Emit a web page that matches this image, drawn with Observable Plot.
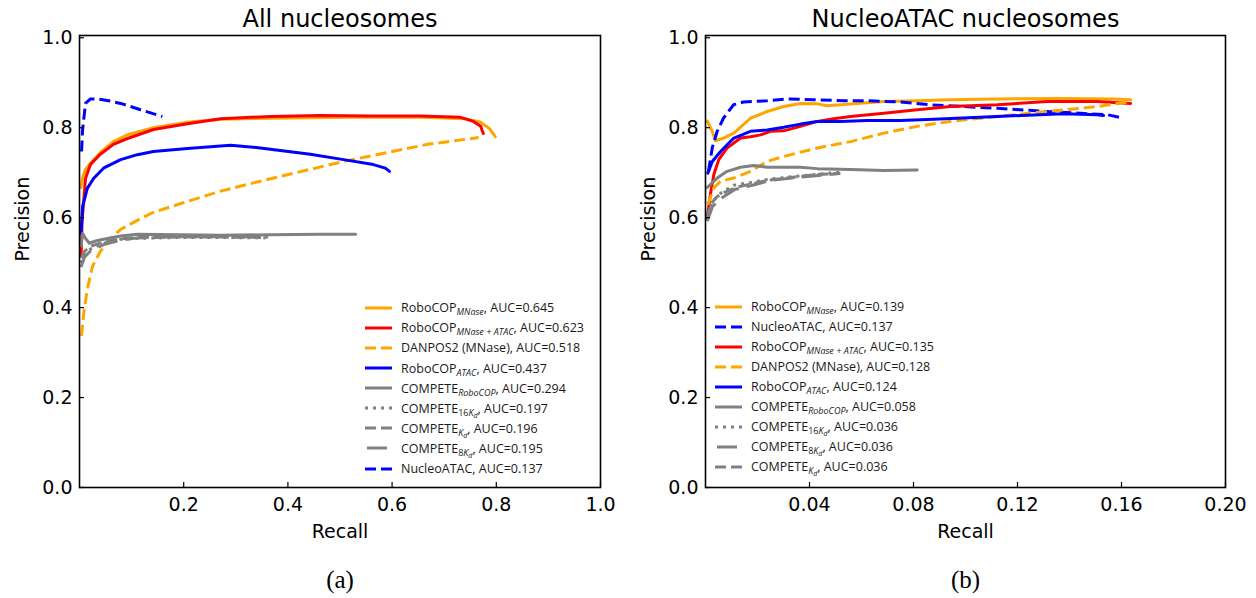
<!DOCTYPE html>
<html><head><meta charset="utf-8">
<script src="https://cdn.jsdelivr.net/npm/d3@7"></script>
<script src="https://cdn.jsdelivr.net/npm/@observablehq/plot@0.6"></script>
<style>
html,body{margin:0;padding:0;background:#fff;}
#root{position:relative;width:1256px;height:598px;overflow:hidden;background:#fff;}
.panel{position:absolute;top:0;}
.legend{position:absolute;left:0;top:0;font-family:"Open Sans",sans-serif;font-size:12.5px;color:#1a1a1a;}
.row{position:absolute;white-space:nowrap;display:flex;align-items:center;height:20px;}
.row svg{margin-right:9px;flex:none;}
.sub{font-size:9px;font-style:italic;position:relative;top:3px;}
.sub .up{font-style:normal;}
.sub .ss{font-size:7px;position:relative;top:2px;}
</style></head><body><div id="root"></div>
<script>
// ---------------- data: panel (a) All nucleosomes ----------------
const a_mnase_r = [0.003,0.006,0.0115,0.021,0.040,0.065,0.094,0.142,0.207,0.271,0.367,0.520,0.655,0.741,0.770,0.787,0.798];
const a_mnase_p = [0.667,0.690,0.707,0.721,0.745,0.769,0.785,0.800,0.812,0.819,0.821,0.823,0.823,0.820,0.812,0.798,0.780];
const a_mnaseatac_r = [0.003,0.005,0.0115,0.021,0.040,0.065,0.092,0.142,0.207,0.271,0.367,0.463,0.559,0.655,0.731,0.756,0.770,0.775];
const a_mnaseatac_p = [0.514,0.592,0.687,0.718,0.741,0.763,0.776,0.796,0.809,0.820,0.825,0.827,0.826,0.826,0.823,0.814,0.803,0.787];
const a_danpos_r = [0.004,0.008,0.015,0.025,0.040,0.060,0.079,0.111,0.142,0.207,0.271,0.361,0.507,0.668,0.766];
const a_danpos_p = [0.337,0.386,0.441,0.492,0.525,0.554,0.574,0.594,0.612,0.636,0.659,0.685,0.725,0.763,0.778];
const a_atac_r = [0.003,0.006,0.015,0.027,0.046,0.079,0.111,0.142,0.207,0.290,0.347,0.443,0.507,0.564,0.587,0.595];
const a_atac_p = [0.565,0.625,0.665,0.687,0.710,0.729,0.740,0.747,0.754,0.761,0.755,0.741,0.729,0.718,0.710,0.703];
const a_compRobo_r = [0.003,0.006,0.0115,0.019,0.031,0.046,0.079,0.111,0.194,0.271,0.367,0.463,0.530];
const a_compRobo_p = [0.537,0.565,0.554,0.543,0.548,0.552,0.559,0.563,0.562,0.561,0.562,0.563,0.563];
const a_comp16_r = [0.003,0.0096,0.021,0.046,0.079,0.111,0.194,0.271,0.357];
const a_comp16_p = [0.499,0.519,0.530,0.543,0.552,0.554,0.556,0.556,0.555];
const a_compKd_r = [0.003,0.0096,0.021,0.046,0.079,0.111,0.194,0.271,0.352];
const a_compKd_p = [0.510,0.525,0.536,0.546,0.553,0.556,0.557,0.557,0.556];
const a_comp8_r = [0.003,0.0096,0.021,0.046,0.079,0.111,0.194,0.271,0.362];
const a_comp8_p = [0.490,0.512,0.526,0.540,0.550,0.555,0.558,0.558,0.557];
const a_nucleo_r = [0.004,0.006,0.0115,0.021,0.035,0.056,0.079,0.117,0.159];
const a_nucleo_p = [0.747,0.796,0.854,0.864,0.864,0.860,0.854,0.840,0.825];

// ---------------- data: panel (b) NucleoATAC nucleosomes ----------------
const b_mnase_r = [0.00065,0.0026,0.0038,0.0070,0.0109,0.0173,0.0237,0.0301,0.0365,0.0430,0.0468,0.0519,0.0583,0.0686,0.0814,0.0942,0.1122,0.1377,0.1569,0.1635];
const b_mnase_p = [0.815,0.792,0.771,0.777,0.788,0.821,0.836,0.847,0.854,0.853,0.849,0.851,0.854,0.858,0.860,0.862,0.864,0.865,0.864,0.862];
const b_nucleo_r = [0.00115,0.00258,0.0045,0.0069,0.0108,0.0146,0.0237,0.0314,0.0430,0.0531,0.0622,0.0750,0.0865,0.0992,0.1122,0.1314,0.1442,0.1545,0.1608];
const b_nucleo_p = [0.703,0.755,0.792,0.821,0.851,0.857,0.860,0.864,0.862,0.860,0.860,0.857,0.851,0.847,0.843,0.836,0.832,0.829,0.821];
const b_mnaseatac_r = [0.00065,0.0019,0.0032,0.0051,0.0083,0.0135,0.0173,0.0212,0.0250,0.0301,0.0365,0.0430,0.0493,0.0558,0.0686,0.0814,0.0942,0.1122,0.1314,0.1507,0.1635];
const b_mnaseatac_p = [0.599,0.652,0.696,0.729,0.755,0.777,0.780,0.784,0.792,0.793,0.803,0.814,0.820,0.825,0.832,0.840,0.847,0.851,0.858,0.858,0.854];
const b_danpos_r = [0.0009,0.0032,0.0058,0.0109,0.0173,0.0237,0.0301,0.0430,0.0558,0.0686,0.0814,0.0942,0.1122,0.1314,0.1507,0.1623];
const b_danpos_p = [0.629,0.666,0.681,0.688,0.703,0.725,0.736,0.755,0.769,0.788,0.803,0.814,0.825,0.836,0.847,0.857];
const b_atac_r = [0.0009,0.0026,0.0058,0.0109,0.0173,0.0237,0.0301,0.0365,0.0430,0.0519,0.0622,0.0750,0.0878,0.1122,0.1377,0.1507,0.1531];
const b_atac_p = [0.699,0.725,0.747,0.777,0.792,0.795,0.801,0.808,0.814,0.814,0.816,0.816,0.819,0.825,0.831,0.829,0.827];
const b_compRobo_r = [0.00065,0.0045,0.0083,0.0135,0.0186,0.0237,0.0365,0.0430,0.0558,0.0686,0.0814];
const b_compRobo_p = [0.667,0.688,0.703,0.712,0.716,0.712,0.712,0.709,0.707,0.705,0.706];
const b_comp16_r = [0.00065,0.0027,0.0058,0.0108,0.0173,0.0237,0.0365,0.0519];
const b_comp16_p = [0.608,0.636,0.654,0.672,0.678,0.685,0.693,0.701];
const b_comp8_r = [0.00065,0.0027,0.0065,0.0115,0.0181,0.0250,0.0365,0.0512];
const b_comp8_p = [0.592,0.625,0.645,0.663,0.672,0.683,0.690,0.698];
const b_compKd_r = [0.00065,0.0019,0.0045,0.0083,0.0135,0.0173,0.0237,0.0301,0.0365,0.0430,0.0519];
const b_compKd_p = [0.599,0.630,0.647,0.659,0.670,0.674,0.683,0.687,0.692,0.696,0.698];

// ---------------- labels / ticks ----------------
const titles = ["All nucleosomes", "NucleoATAC nucleosomes"];
const captions = ["(a)", "(b)"];
const xLabel = "Recall", yLabel = "Precision";
const yTicks = [0, 0.2, 0.4, 0.6, 0.8, 1.0];
const xTicksA = [0.2, 0.4, 0.6, 0.8, 1.0];
const xTicksB = [0.04, 0.08, 0.12, 0.16, 0.20];

// series: [base name, subscript, AUC]
const namesA = [["RoboCOP","MNase","0.645"],["RoboCOP","MNase + ATAC","0.623"],["DANPOS2 (MNase)","","0.518"],["RoboCOP","ATAC","0.437"],["COMPETE","RoboCOP","0.294"],["COMPETE","16K_d","0.197"],["COMPETE","K_d","0.196"],["COMPETE","8K_d","0.195"],["NucleoATAC","","0.137"]];
const namesB = [["RoboCOP","MNase","0.139"],["NucleoATAC","","0.137"],["RoboCOP","MNase + ATAC","0.135"],["DANPOS2 (MNase)","","0.128"],["RoboCOP","ATAC","0.124"],["COMPETE","RoboCOP","0.058"],["COMPETE","16K_d","0.036"],["COMPETE","8K_d","0.036"],["COMPETE","K_d","0.036"]];

// styles
const ORANGE = "#ffa500", RED = "#ff0000", BLUE = "#0000ff", GRAY = "#808080";
const SOLID = null, DASH = "11,5", DOT = "3,5", LONG = "20,8";

const seriesA = [
  {r:a_mnase_r, p:a_mnase_p, c:ORANGE, d:SOLID, n:namesA[0]},
  {r:a_mnaseatac_r, p:a_mnaseatac_p, c:RED, d:SOLID, n:namesA[1]},
  {r:a_danpos_r, p:a_danpos_p, c:ORANGE, d:DASH, n:namesA[2]},
  {r:a_atac_r, p:a_atac_p, c:BLUE, d:SOLID, n:namesA[3]},
  {r:a_compRobo_r, p:a_compRobo_p, c:GRAY, d:SOLID, n:namesA[4]},
  {r:a_comp16_r, p:a_comp16_p, c:GRAY, d:DOT, n:namesA[5]},
  {r:a_compKd_r, p:a_compKd_p, c:GRAY, d:DASH, n:namesA[6]},
  {r:a_comp8_r, p:a_comp8_p, c:GRAY, d:LONG, n:namesA[7]},
  {r:a_nucleo_r, p:a_nucleo_p, c:BLUE, d:DASH, n:namesA[8]}
];
const seriesB = [
  {r:b_mnase_r, p:b_mnase_p, c:ORANGE, d:SOLID, n:namesB[0]},
  {r:b_nucleo_r, p:b_nucleo_p, c:BLUE, d:DASH, n:namesB[1]},
  {r:b_mnaseatac_r, p:b_mnaseatac_p, c:RED, d:SOLID, n:namesB[2]},
  {r:b_danpos_r, p:b_danpos_p, c:ORANGE, d:DASH, n:namesB[3]},
  {r:b_atac_r, p:b_atac_p, c:BLUE, d:SOLID, n:namesB[4]},
  {r:b_compRobo_r, p:b_compRobo_p, c:GRAY, d:SOLID, n:namesB[5]},
  {r:b_comp16_r, p:b_comp16_p, c:GRAY, d:DOT, n:namesB[6]},
  {r:b_comp8_r, p:b_comp8_p, c:GRAY, d:LONG, n:namesB[7]},
  {r:b_compKd_r, p:b_compKd_p, c:GRAY, d:DASH, n:namesB[8]}
];
const orderA = [0,1,2,3,4,5,6,7,8];
const orderB = [0,1,2,3,4,5,6,7,8];

function panel(series, order, xDomain, xTicks, xFmt, ml, mr, ti) {
  const rows = s => s.r.map((r, i) => ({r, p: s.p[i]}));
  const tickLenX = 5 * (xDomain[1] - xDomain[0]) / (628 - ml - mr);
  const tickLenY = 5 * 1.005 / 452;
  return Plot.plot({
    width: 628, height: 598,
    marginLeft: ml, marginRight: mr, marginTop: 35, marginBottom: 111,
    style: {fontFamily: "DejaVu Sans", fontSize: "19px", background: "white", color: "black", overflow: "visible"},
    x: {domain: xDomain},
    y: {domain: [0, 1.005]},
    axis: null,
    marks: [
      ...order.map(k => Plot.line(rows(series[k]), {x: "r", y: "p", stroke: series[k].c, strokeWidth: 3, strokeDasharray: series[k].d, strokeLinecap: series[k].d ? "butt" : "round"})),
      Plot.frame({stroke: "black", strokeWidth: 1.6}),
      Plot.ruleX(xTicks, {x: d => d, y1: 0, y2: tickLenY, stroke: "black", strokeWidth: 1.2}),
      Plot.ruleY(yTicks, {y: d => d, x1: xDomain[0], x2: xDomain[0] + tickLenX, stroke: "black", strokeWidth: 1.2}),
      Plot.axisX({ticks: xTicks, tickSize: 0, tickPadding: 10, tickFormat: xFmt, label: null, fontSize: 19}),
      Plot.axisY({ticks: yTicks, tickSize: 0, tickPadding: 7, tickFormat: d3.format(".1f"), label: null, fontSize: 19}),
      Plot.text([titles[ti]], {frameAnchor: "top", lineAnchor: "middle", dy: -16, fontSize: 24, text: d => d}),
      Plot.text([xLabel], {frameAnchor: "bottom", lineAnchor: "middle", dy: 44, fontSize: 19, text: d => d}),
      Plot.text([yLabel], {frameAnchor: "left", lineAnchor: "middle", dx: -57, rotate: -90, fontSize: 19, text: d => d}),
      Plot.text([captions[ti]], {frameAnchor: "bottom", lineAnchor: "middle", dy: 92, fontSize: 25, fontFamily: "Liberation Serif", text: d => d})
    ]
  });
}

function subHTML(s) {
  const m = s.match(/^(\d*)(.*)$/);
  let out = "";
  if (m[1]) out += `<span class="up">${m[1]}</span>`;
  let rest = m[2];
  if (rest.includes("_")) {
    const [a, b] = rest.split("_");
    out += `${a}<span class="ss">${b}</span>`;
  } else out += rest;
  return `<span class="sub">${out}</span>`;
}

function legend(series, left, top0, step) {
  const div = document.createElement("div");
  div.className = "legend";
  series.forEach((s, i) => {
    const row = document.createElement("div");
    row.className = "row";
    row.style.left = left + "px";
    row.style.top = (top0 + i * step - 10) + "px";
    const dashAttr = s.d ? `stroke-dasharray="${s.d}"` + (s.d === LONG ? ` stroke-dashoffset="26"` : "") : "";
    const [base, sub, auc] = s.n;
    row.innerHTML = `<svg width="27" height="20"><line x1="0" x2="27" y1="10" y2="10" stroke="${s.c}" stroke-width="3" ${dashAttr}></line></svg>` +
      `<span>${base}${sub ? subHTML(sub) : ""}, AUC=${auc}</span>`;
    div.appendChild(row);
  });
  return div;
}

const root = document.getElementById("root");
const pa = panel(seriesA, orderA, [0, 1], xTicksA, d3.format(".1f"), 79, 28, 0);
const pb = panel(seriesB, orderB, [0, 0.2], xTicksB, d3.format(".2f"), 77, 31, 1);
const wa = document.createElement("div"); wa.className = "panel"; wa.style.left = "0px"; wa.appendChild(pa);
const wb = document.createElement("div"); wb.className = "panel"; wb.style.left = "628px"; wb.appendChild(pb);
root.appendChild(wa); root.appendChild(wb);
root.appendChild(legend(seriesA, 365, 307.7, 20.1));
root.appendChild(legend(seriesB, 715, 306.7, 20.0));
</script></body></html>
